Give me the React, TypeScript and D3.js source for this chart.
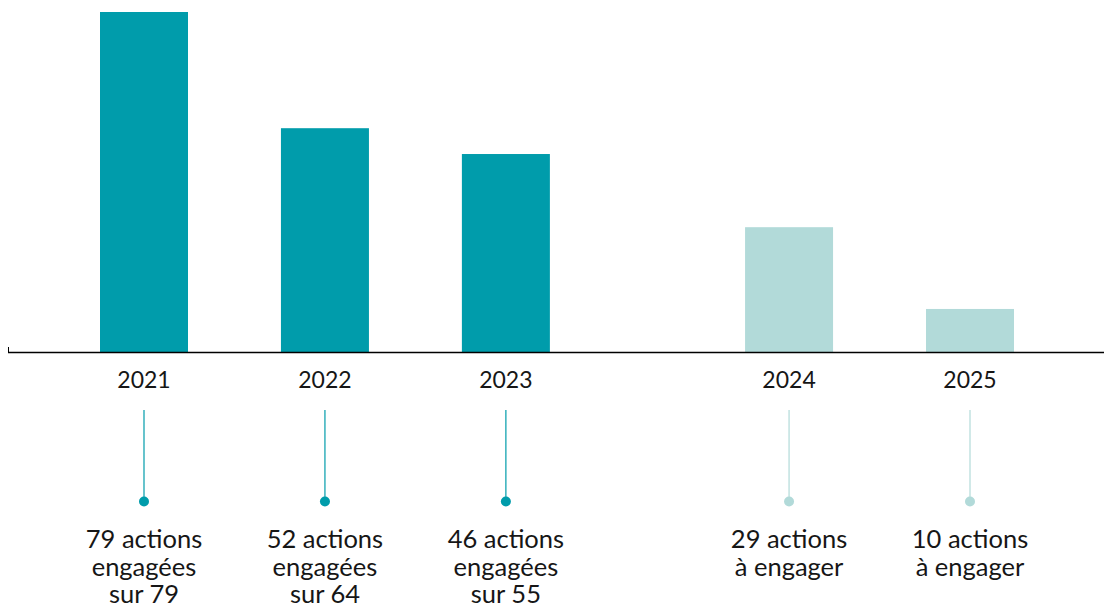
import React from "react";
import * as d3 from "d3";

const years = ["2021", "2022", "2023", "2024", "2025"];
const actions = [79, 52, 46, 29, 10];
const slots = [0, 1, 2, 3.565, 4.565];
const engaged = [true, true, true, false, false];
const captions = [
  ["79 actions", "engagées", "sur 79"],
  ["52 actions", "engagées", "sur 64"],
  ["46 actions", "engagées", "sur 55"],
  ["29 actions", "à engager"],
  ["10 actions", "à engager"],
];

const W = 1104;
const H = 605;
const DARK = "#009CAB";
const LIGHT = "#B2DAD9";
const FONT = "Lato, 'Open Sans', sans-serif";

export default function App() {
  const x = d3.scaleLinear().domain([0, 4.565]).range([144, 970]);
  const y = d3.scaleLinear().domain([0, 79]).range([352, 12]);
  const barW = 88;
  return (
    <svg width={W} height={H} style={{ position: "absolute", left: 0, top: 0 }}>
      {actions.map((v, i) => (
        <rect
          key={years[i]}
          x={x(slots[i]) - barW / 2}
          y={y(v)}
          width={barW}
          height={y(0) - y(v)}
          fill={engaged[i] ? DARK : LIGHT}
        />
      ))}
      <line x1={8} x2={W} y1={352.5} y2={352.5} stroke="#000" strokeWidth={1.3} />
      <line x1={8.5} x2={8.5} y1={347} y2={352.5} stroke="#000" strokeWidth={1} />
      {years.map((yr, i) => (
        <g key={yr}>
          <text
            x={x(slots[i])}
            y={388}
            textAnchor="middle"
            fontFamily={FONT}
            fontSize={23}
            fill="#161616"
          >
            {yr}
          </text>
          <line
            x1={x(slots[i])}
            x2={x(slots[i])}
            y1={410}
            y2={500}
            stroke={engaged[i] ? DARK : LIGHT}
            strokeWidth={1.2}
          />
          <circle cx={x(slots[i])} cy={501.5} r={5} fill={engaged[i] ? DARK : LIGHT} />
          {captions[i].map((line, j) => (
            <text
              key={j}
              x={x(slots[i])}
              y={548 + j * 27.5}
              textAnchor="middle"
              fontFamily={FONT}
              fontSize={25.5}
              fill="#161616"
            >
              {line}
            </text>
          ))}
        </g>
      ))}
    </svg>
  );
}
